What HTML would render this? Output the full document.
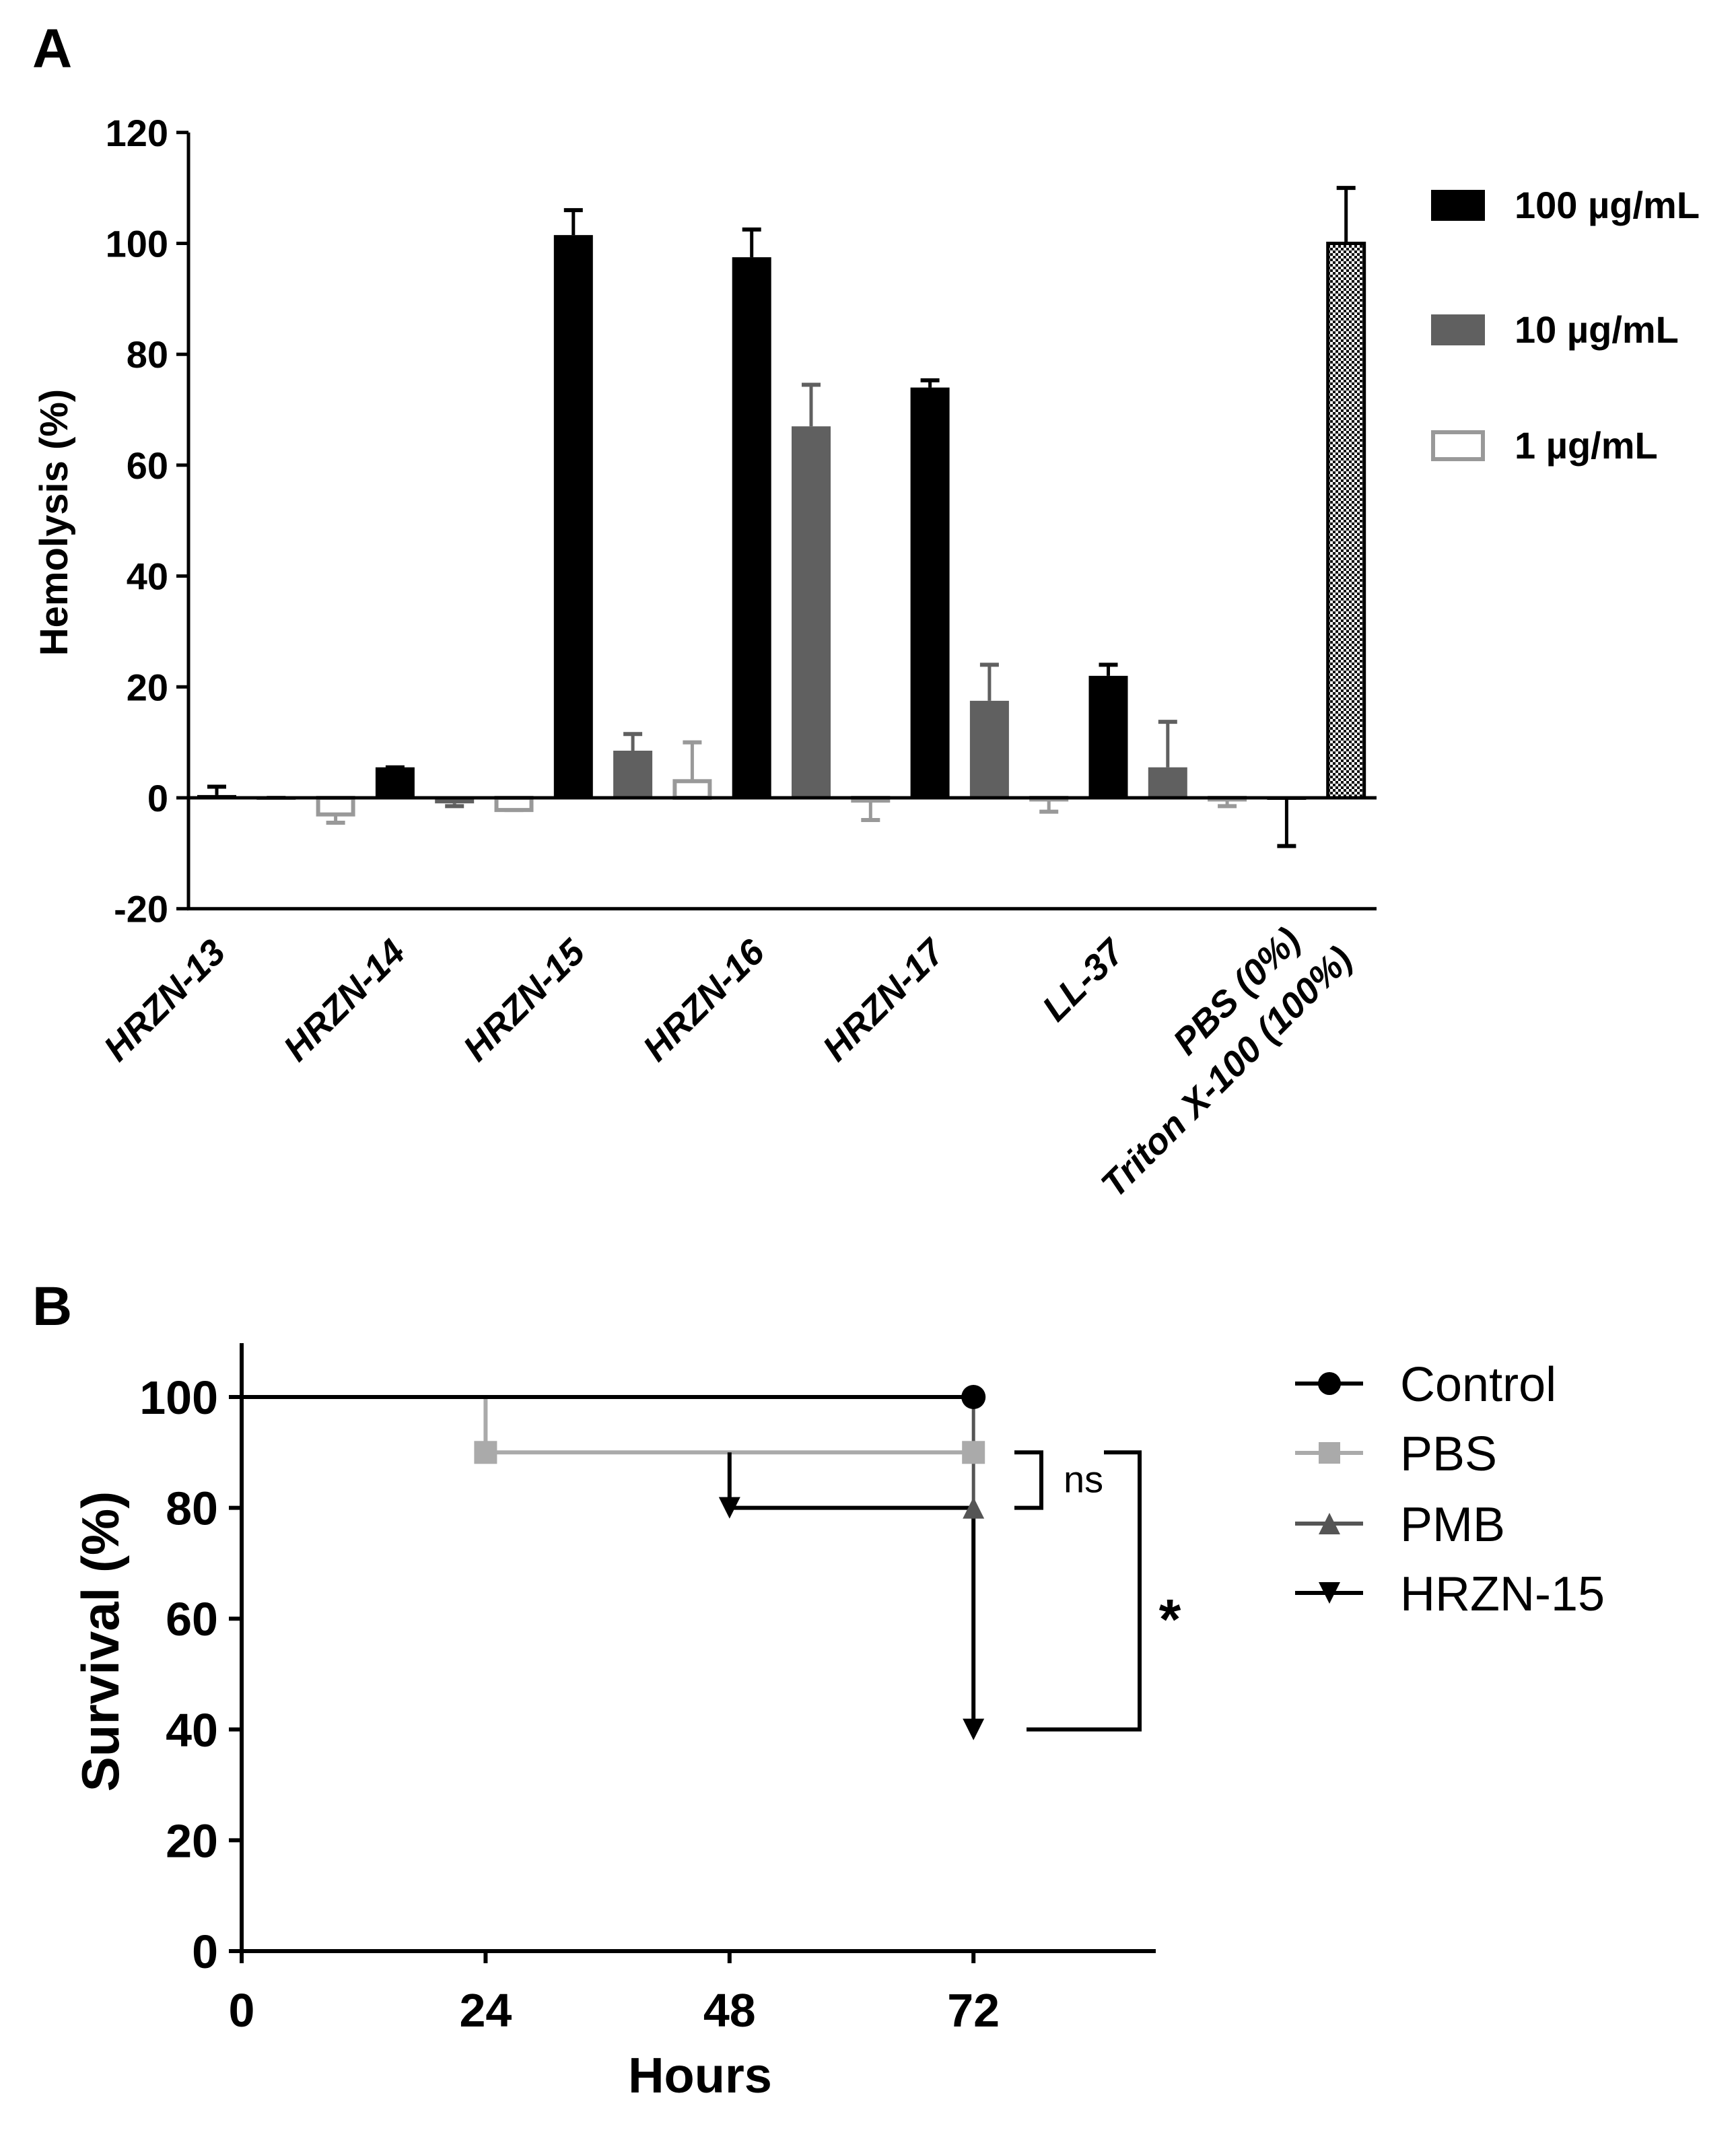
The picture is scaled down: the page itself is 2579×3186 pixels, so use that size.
<!DOCTYPE html>
<html><head><meta charset="utf-8"><style>
html,body{margin:0;padding:0;background:#fff;}
svg{display:block;font-family:"Liberation Sans",Arial,sans-serif;}
</style></head><body>
<svg id="fig" width="2579" height="3186" viewBox="0 0 2579 3186" xmlns="http://www.w3.org/2000/svg">
<defs>
<pattern id="hatch" width="8" height="8" patternUnits="userSpaceOnUse">
<rect width="8" height="8" fill="#fff"/><rect width="4" height="4" fill="#111"/><rect x="4" y="4" width="4" height="4" fill="#111"/>
</pattern>
</defs>
<text x="48" y="100" font-size="82" font-weight="bold">A</text>
<text x="48" y="1968" font-size="82" font-weight="bold">B</text>
<g id="ga"></g>
<g id="gb"></g>
</svg>
<script>
// ---- Panel A data ----
const groups = ["HRZN-13","HRZN-14","HRZN-15","HRZN-16","HRZN-17","LL-37"];
const vals100 = [0.5, 5.5, 101.5, 97.5, 74, 22];
const err100  = [2, 5.5, 106, 102.5, 75.3, 24];
const vals10  = [0, -1, 8.5, 67, 17.5, 5.5];
const err10   = [0, -1.5, 11.5, 74.5, 24, 13.7];
const vals1   = [-3, -2.2, 3, -0.5, -0.3, -0.3];
const err1    = [-4.5, -2.2, 10, -4, -2.5, -1.5];
const ctrlVals = [0, 100];
const ctrlErr  = [-8.7, 110];
const yTicksA = [-20, 0, 20, 40, 60, 80, 100, 120];

// ---- Panel B data ----
const xTicksB = [0, 24, 48, 72];
const yTicksB = [0, 20, 40, 60, 80, 100];
const controlT = [0, 72], controlS = [100, 100];
const pbsT = [0, 24, 72], pbsS = [100, 90, 90];
const pmbT = [0, 72], pmbS = [100, 80];
const hrznT = [0, 48, 72], hrznS = [90, 80, 40];

const NS = "http://www.w3.org/2000/svg";
function mk(parent, tag, attrs){ const e=document.createElementNS(NS,tag); for(const k in attrs) e.setAttribute(k,attrs[k]); parent.appendChild(e); return e; }

// ===== Panel A =====
const ga = document.getElementById('ga');
const yA = v => 1185 - v*8.235;
const slotX = i => 322 + 88.3*i;
const BW = 58;
let e = mk(ga,'line',{x1:280,y1:yA(120),x2:280,y2:yA(-20),stroke:'#000','stroke-width':5});
 
e = mk(ga,'line',{x1:278,y1:yA(-20),x2:2045,y2:yA(-20),stroke:'#000','stroke-width':5});
 
yTicksA.forEach(t=>{
  const tk = mk(ga,'line',{x1:262,y1:yA(t),x2:280,y2:yA(t),stroke:'#000','stroke-width':5});
   
  const tl = mk(ga,'text',{x:250,y:yA(t)+20,'font-size':56,'font-weight':'bold','text-anchor':'end'});
  tl.textContent = t;
   
});
e = mk(ga,'text',{x:0,y:0,'font-size':58,'font-weight':'bold','text-anchor':'middle',transform:'translate(100,776) rotate(-90)'});
e.textContent='Hemolysis (%)';
 

function bar(i, v, err, kind){
  const x = slotX(i) - BW/2;
  const y0 = yA(0), y1 = yA(v);
  const top = Math.min(y0,y1), h = Math.abs(y1-y0);
  const col = kind==='k' ? '#000' : kind==='g' ? '#606060' : kind==='h' ? '#000' : '#999';
  const ed = v>=0 ? top : top+h;
  const eb = mk(ga,'line',{x1:slotX(i),y1:ed,x2:slotX(i),y2:yA(err),stroke:col,'stroke-width':5});
   
  const ec = mk(ga,'line',{x1:slotX(i)-14,y1:yA(err),x2:slotX(i)+14,y2:yA(err),stroke:col,'stroke-width':6});
   
  let r;
  if(kind==='o') r = mk(ga,'rect',{x:x+3,y:top,width:BW-6,height:Math.max(h,1),fill:'#fff',stroke:'#999','stroke-width':6});
  else if(kind==='h') r = mk(ga,'rect',{x:x+2,y:top,width:BW-4,height:h,fill:'url(#hatch)',stroke:'#000','stroke-width':5});
  else r = mk(ga,'rect',{x:x,y:top,width:BW,height:Math.max(h,3),fill:col});
  
  
}
groups.forEach((g,gi)=>{
  bar(gi*3, vals100[gi], err100[gi], 'k');
  bar(gi*3+1, vals10[gi], err10[gi], 'g');
  bar(gi*3+2, vals1[gi], err1[gi], 'o');
  const lab = mk(ga,'text',{x:0,y:0,'font-size':54,'font-weight':'bold','font-style':'italic','text-anchor':'end',transform:`translate(${338+267*gi},1418) rotate(-45)`});
  lab.textContent = g;
   
});
bar(18, ctrlVals[0], ctrlErr[0], 'k');
bar(19, ctrlVals[1], ctrlErr[1], 'h');
e = mk(ga,'line',{x1:280,y1:yA(0),x2:2045,y2:yA(0),stroke:'#000','stroke-width':5});
 
e = mk(ga,'text',{x:0,y:0,'font-size':54,'font-weight':'bold','font-style':'italic','text-anchor':'end',transform:'translate(1935,1400) rotate(-45)'});
e.textContent='PBS (0%)';
 
e = mk(ga,'text',{x:0,y:0,'font-size':54,'font-weight':'bold','font-style':'italic','text-anchor':'end',transform:'translate(2012,1428) rotate(-45)'});
e.textContent='Triton X-100 (100%)';
 
[['#000','100 µg/mL',282],['#606060','10 µg/mL',467],['o','1 µg/mL',639]].forEach(([c,t,y])=>{
  const r = c==='o' ? mk(ga,'rect',{x:2129,y:y+3,width:74,height:40,fill:'#fff',stroke:'#999','stroke-width':6})
                    : mk(ga,'rect',{x:2126,y:y,width:80,height:46,fill:c});
   
  const tx = mk(ga,'text',{x:2250,y:y+42,'font-size':56,'font-weight':'bold'});
  tx.textContent = t;
   
});

// ===== Panel B =====
const gb = document.getElementById('gb');
const xB = t => 359 + t*15.1;
const yB = s => 2898 - s*8.23;
e = mk(gb,'line',{x1:359,y1:1995,x2:359,y2:2901,stroke:'#000','stroke-width':6});
 
e = mk(gb,'line',{x1:356,y1:yB(0),x2:1717,y2:yB(0),stroke:'#000','stroke-width':6});
 
yTicksB.forEach(t=>{
  const tk = mk(gb,'line',{x1:340,y1:yB(t),x2:359,y2:yB(t),stroke:'#000','stroke-width':6});
   
  const tl = mk(gb,'text',{x:324,y:yB(t)+25,'font-size':70,'font-weight':'bold','text-anchor':'end'});
  tl.textContent=t;
   
});
xTicksB.forEach(t=>{
  const tk = mk(gb,'line',{x1:xB(t),y1:yB(0),x2:xB(t),y2:yB(0)+18,stroke:'#000','stroke-width':6});
   
  const tl = mk(gb,'text',{x:xB(t),y:3010,'font-size':70,'font-weight':'bold','text-anchor':'middle'});
  tl.textContent=t;
   
});
e = mk(gb,'text',{x:1040,y:3108,'font-size':74,'font-weight':'bold','text-anchor':'middle'});
e.textContent='Hours';
 
e = mk(gb,'text',{x:0,y:0,'font-size':78,'font-weight':'bold','text-anchor':'middle',transform:'translate(176,2438) rotate(-90)'});
e.textContent='Survival (%)';
 

function stepPath(T,S,start){
  let d = `M${xB(T[start])},${yB(S[start-1 < 0 ? 0 : start-1])}`;
  if(start===0) d = `M${xB(T[0])},${yB(S[0])}`;
  for(let i=start===0?1:start;i<T.length;i++){
    if(i===start && start>0){ d += ` V${yB(S[i])}`; continue; }
    d += ` H${xB(T[i])} V${yB(S[i])}`;
  }
  return d;
}
function tri(x,y,down,col){
  const s=16;
  const p = down ? `${x-s},${y-s} ${x+s},${y-s} ${x},${y+s}` : `${x-s},${y+s} ${x+s},${y+s} ${x},${y-s}`;
  return mk(gb,'polygon',{points:p,fill:col});
}
// PMB
e = mk(gb,'path',{d:stepPath(pmbT,pmbS,0),fill:'none',stroke:'#555','stroke-width':5});
 
// PBS
e = mk(gb,'path',{d:stepPath(pbsT,pbsS,0),fill:'none',stroke:'#aaa','stroke-width':6});
 
// HRZN-15 (drawn from first drop)
e = mk(gb,'path',{d:stepPath(hrznT,hrznS,1),fill:'none',stroke:'#000','stroke-width':6});
 
// Control
e = mk(gb,'path',{d:stepPath(controlT,controlS,0),fill:'none',stroke:'#000','stroke-width':6});
 
e = mk(gb,'circle',{cx:xB(controlT[controlT.length-1]),cy:yB(controlS[controlS.length-1]),r:18,fill:'#000'});
 
for(let i=1;i<hrznT.length;i++){
  e = tri(xB(hrznT[i]),yB(hrznS[i]),true,'#000');
   
}
for(let i=1;i<pbsT.length;i++){
  e = mk(gb,'rect',{x:xB(pbsT[i])-17,y:yB(pbsS[i])-17,width:34,height:34,fill:'#aaa'});
   
}
e = tri(xB(pmbT[1]),yB(pmbS[1]),false,'#555');
 
// brackets
e = mk(gb,'path',{d:`M1507,${yB(90)} H1547 V${yB(80)} H1507`,fill:'none',stroke:'#000','stroke-width':6});
 
e = mk(gb,'text',{x:1580,y:yB(85)+18,'font-size':56});
e.textContent='ns';
 
e = mk(gb,'path',{d:`M1640,${yB(90)} H1693 V${yB(40)} H1525`,fill:'none',stroke:'#000','stroke-width':6});
 
e = mk(gb,'text',{x:1738,y:yB(60)+30,'font-size':84,'font-weight':'bold','text-anchor':'middle'});
e.textContent='*';
 
[['Control','#000','c',2055],['PBS','#aaa','s',2158],['PMB','#555','u',2263],['HRZN-15','#000','d',2366]].forEach(([t,c,m,y])=>{
  const ln = mk(gb,'line',{x1:1924,y1:y,x2:2025,y2:y,stroke:c,'stroke-width':6});
   
  let mm;
  if(m==='c') mm = mk(gb,'circle',{cx:1975,cy:y,r:17,fill:c});
  else if(m==='s') mm = mk(gb,'rect',{x:1959,y:y-16,width:32,height:32,fill:c});
  else mm = tri(1975,y,m==='d',c);
   
  const tx = mk(gb,'text',{x:2080,y:y+26,'font-size':72});
  tx.textContent=t;
   
});
</script>
</body></html>
